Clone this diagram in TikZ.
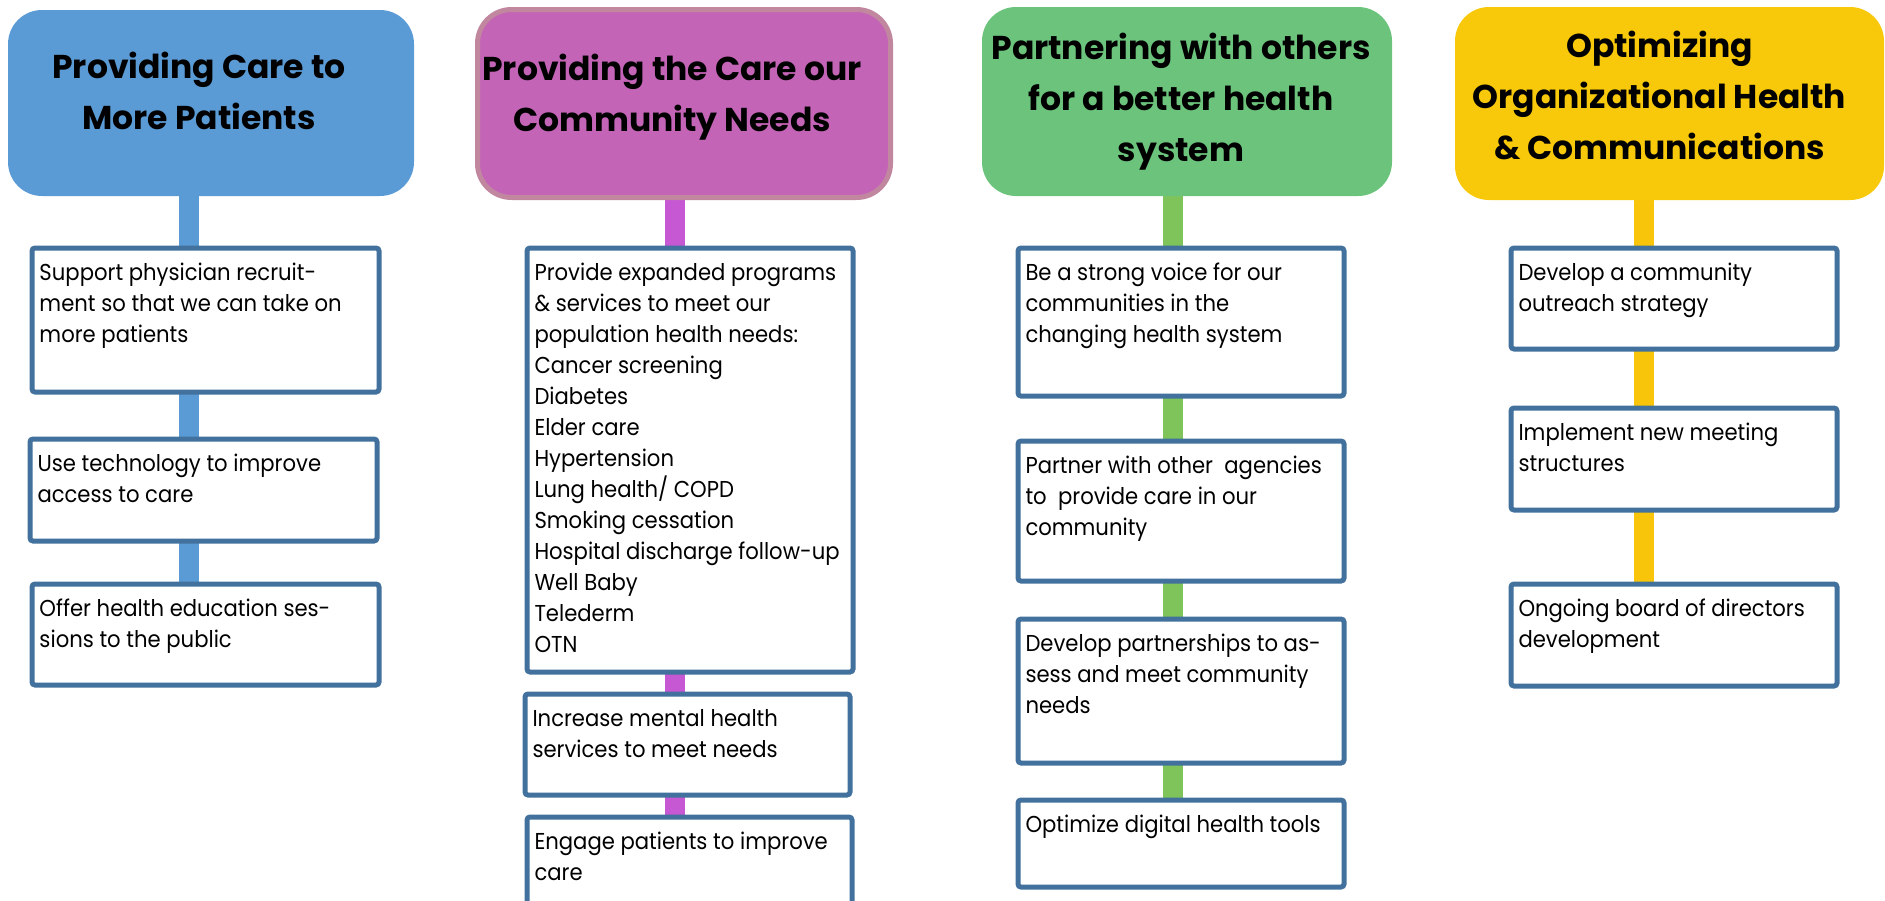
\documentclass[tikz,border=0pt]{standalone}
\usepackage{fontspec}
\setmainfont{Poppins}
\newfontfamily\itemfont[FakeStretch=0.92]{Poppins}
\usepackage{tikz}
\usetikzlibrary{positioning,backgrounds}
\definecolor{bluec}{HTML}{5B9BD5}
\definecolor{purpc}{HTML}{C464B7}
\definecolor{purpline}{HTML}{C1879F}
\definecolor{purpbar}{HTML}{C658D4}
\definecolor{greenc}{HTML}{6CC47C}
\definecolor{greenbar}{HTML}{7EC45B}
\definecolor{goldc}{HTML}{F8C80A}
\definecolor{goldbar}{HTML}{F8C50A}
\definecolor{edgec}{HTML}{41719C}
\newlength\pxu
\setlength\pxu{0.5pt}
% box text: width and height of the box in px, text sits at the top
\newcommand{\gtext}[3]{\parbox[t][\dimexpr #2\pxu-11pt\relax][t]{\dimexpr #1\pxu-7.5pt\relax}{\raggedright\strut #3}}
\tikzset{
  head/.style={rounded corners=17pt, inner sep=0pt},
  title/.style={align=center, inner sep=0pt,
                font=\fontsize{16.5}{25.5}\selectfont\bfseries},
  goal/.style={draw=edgec, fill=white, line width=2.5pt, rounded corners=1.5pt,
               anchor=north west, inner xsep=3.75pt, inner ysep=5.5pt,
               font=\fontsize{11.5}{15.5}\itemfont},
  bar/.style={line width=10pt},
}

\begin{document}
\begin{tikzpicture}[x=0.5pt, y=-0.5pt]
  \useasboundingbox (0,0) rectangle (1885,900);

  % four headers and their titles
  \node[head, fill=bluec, minimum width=203pt, minimum height=93pt] (h1) at (211,103) {};
  \node[head, fill=purpc, draw=purpline, line width=2.5pt, minimum width=206.5pt, minimum height=94pt] (h2) at (684,103.5) {};
  \node[head, fill=greenc, minimum width=205pt, minimum height=94.5pt] (h3) at (1187,101.5) {};
  \node[head, fill=goldc, minimum width=214.5pt, minimum height=96.5pt] (h4) at (1669.5,103.5) {};

  \node[title, xshift=-6pt, yshift=6pt] (t1) at (h1) {Providing Care to\\More Patients};
  \node[title, xshift=-6pt, yshift=3pt] (t2) at (h2) {Providing the Care our\\Community Needs};
  \node[title, xshift=-3pt] (t3) at (h3) {Partnering with others\\for a better health\\system};
  \node[title, xshift=-5pt, yshift=4pt] (t4) at (h4) {Optimizing\\Organizational Health\\\& Communications};

  % column 1
  \node[goal] (a1) at (29.5,245.5) {\gtext{347}{144}{Support physician recruit-\\ment so that we can take on\\more patients}};
  \node[goal] (a2) at (27.5,436.5) {\gtext{347}{102}{Use technology to improve\\access to care}};
  \node[goal] (a3) at (29.5,581.5) {\gtext{347}{101}{Offer health education ses-\\sions to the public}};

  % column 2
  \node[goal] (b1) at (524.5,245.5) {\gtext{326}{424}{Provide expanded programs\\\& services to meet our\\population health needs:\\Cancer screening\\Diabetes\\Elder care\\Hypertension\\Lung health/ COPD\\Smoking cessation\\Hospital discharge follow-up\\Well Baby\\Telederm\\OTN}};
  \node[goal] (b2) at (522.5,691.5) {\gtext{325}{101}{Increase mental health\\services to meet needs}};
  \node[goal] (b3) at (524.5,814.5) {\gtext{325}{105}{Engage patients to improve\\care}};

  % column 3
  \node[goal] (c1) at (1015.5,245.5) {\gtext{326}{148}{Be a strong voice for our\\communities in the\\changing health system}};
  \node[goal] (c2) at (1015.5,438.5) {\gtext{326}{140}{Partner with other~ agencies\\to~ provide care in our\\community}};
  \node[goal] (c3) at (1015.5,616.5) {\gtext{326}{144}{Develop partnerships to as-\\sess and meet community\\needs}};
  \node[goal] (c4) at (1015.5,797.5) {\gtext{326}{87}{Optimize digital health tools}};

  % column 4
  \node[goal] (d1) at (1508.5,245.5) {\gtext{326}{101}{Develop a community\\outreach strategy}};
  \node[goal] (d2) at (1508.5,405.5) {\gtext{326}{102}{Implement new meeting\\structures}};
  \node[goal] (d3) at (1508.5,581.5) {\gtext{326}{102}{Ongoing board of directors\\development}};

  % spines behind the boxes
  \coordinate (s1) at (189,0);
  \coordinate (s2) at (675,0);
  \coordinate (s3) at (1173,0);
  \coordinate (s4) at (1644,0);
  \begin{scope}[on background layer]
    \draw[bar, bluec]    (s1 |- h1.south) -- (s1 |- a3.north);
    \draw[bar, purpbar]  (s2 |- h2.south) -- (s2 |- b3.north);
    \draw[bar, greenbar] (s3 |- h3.south) -- (s3 |- c4.north);
    \draw[bar, goldbar]  (s4 |- h4.south) -- (s4 |- d3.north);
  \end{scope}
\end{tikzpicture}
\end{document}
